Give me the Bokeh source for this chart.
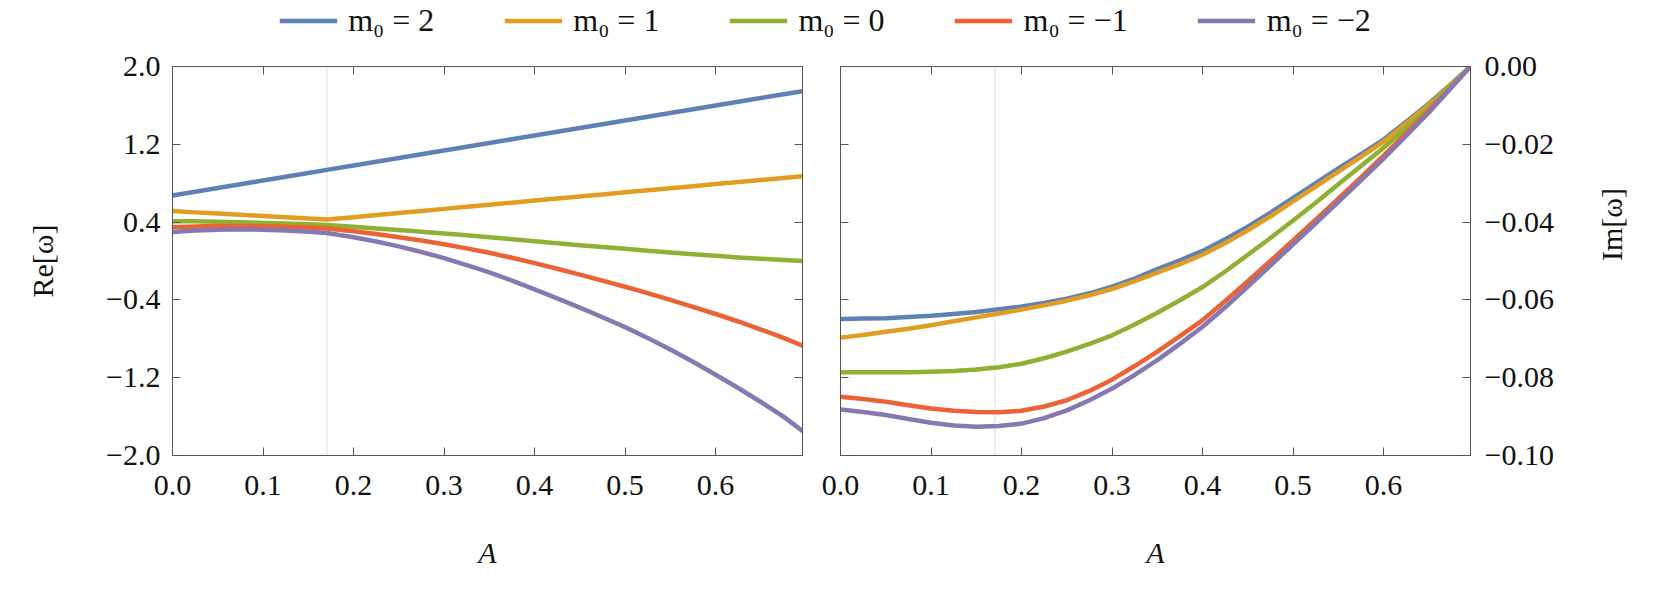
import math
from bokeh.plotting import figure
from bokeh.layouts import column, row
from bokeh.models import (Range1d, LinearAxis, FixedTicker, CustomJSTickFormatter,
                          Span, Legend, LegendItem)
from bokeh.embed import file_html
from bokeh.resources import INLINE

# ---------------- data ----------------
A_RE = [0.0, 0.025, 0.05, 0.075, 0.1, 0.125, 0.15, 0.1706, 0.2, 0.225, 0.25, 0.275, 0.3, 0.325,
        0.35, 0.375, 0.4, 0.425, 0.45, 0.475, 0.5, 0.525, 0.55, 0.575, 0.6, 0.625, 0.65, 0.675, 0.696]
RE_M2 = [0.674, 0.713, 0.751, 0.790, 0.828, 0.867, 0.905, 0.937, 0.982, 1.021, 1.059, 1.098, 1.136, 1.175,
         1.213, 1.252, 1.290, 1.329, 1.367, 1.406, 1.445, 1.483, 1.522, 1.560, 1.599, 1.637, 1.676, 1.714, 1.746]
RE_M1 = [0.513, 0.500, 0.488, 0.475, 0.462, 0.449, 0.436, 0.426, 0.451, 0.472, 0.493, 0.515, 0.536, 0.557,
         0.578, 0.600, 0.621, 0.642, 0.663, 0.684, 0.706, 0.727, 0.748, 0.769, 0.791, 0.812, 0.833, 0.854, 0.872]
RE_M0 = [0.410, 0.408, 0.404, 0.399, 0.392, 0.385, 0.378, 0.370, 0.352, 0.335, 0.318, 0.301, 0.283, 0.264,
         0.245, 0.224, 0.203, 0.183, 0.163, 0.144, 0.125, 0.106, 0.088, 0.070, 0.053, 0.037, 0.023, 0.010, 0.000]
RE_MN1 = [0.348, 0.355, 0.360, 0.360, 0.357, 0.351, 0.344, 0.334, 0.307, 0.278, 0.245, 0.210, 0.172, 0.130,
          0.085, 0.033, -0.022, -0.080, -0.140, -0.202, -0.265, -0.331, -0.400, -0.471, -0.545, -0.622, -0.705, -0.790, -0.871]
RE_MN2 = [0.297, 0.313, 0.322, 0.326, 0.322, 0.314, 0.300, 0.287, 0.245, 0.200, 0.150, 0.093, 0.030, -0.042,
          -0.118, -0.202, -0.292, -0.384, -0.480, -0.578, -0.680, -0.792, -0.910, -1.037, -1.170, -1.306, -1.450, -1.600, -1.748]

A_IM = [0.0, 0.025, 0.05, 0.075, 0.1, 0.125, 0.15, 0.175, 0.2, 0.225, 0.25, 0.275, 0.3, 0.325,
        0.35, 0.375, 0.4, 0.425, 0.45, 0.475, 0.5, 0.525, 0.55, 0.575, 0.6, 0.625, 0.65, 0.675, 0.696]
IM_M2 = [-0.0649, -0.0648, -0.0647, -0.0644, -0.0641, -0.0636, -0.0631, -0.0624, -0.0617, -0.0608, -0.0597, -0.0583,
         -0.0566, -0.0545, -0.0521, -0.0498, -0.0474, -0.0444, -0.0412, -0.0376, -0.0338, -0.0300, -0.0262, -0.0225,
         -0.0188, -0.0142, -0.0095, -0.0044, 0.0]
IM_M1 = [-0.0697, -0.0690, -0.0682, -0.0674, -0.0665, -0.0655, -0.0645, -0.0635, -0.0625, -0.0614, -0.0602, -0.0588,
         -0.0572, -0.0552, -0.0530, -0.0508, -0.0484, -0.0454, -0.0421, -0.0385, -0.0347, -0.0309, -0.0270, -0.0232,
         -0.0193, -0.0146, -0.0098, -0.0046, 0.0]
IM_M0 = [-0.0786, -0.0786, -0.0786, -0.0786, -0.0785, -0.0783, -0.0779, -0.0773, -0.0764, -0.0750, -0.0733, -0.0713,
         -0.0691, -0.0663, -0.0633, -0.0601, -0.0567, -0.0527, -0.0484, -0.0441, -0.0396, -0.0350, -0.0303, -0.0256,
         -0.0209, -0.0158, -0.0105, -0.0048, 0.0]
IM_MN1 = [-0.0849, -0.0855, -0.0862, -0.0871, -0.0879, -0.0885, -0.0888, -0.0889, -0.0885, -0.0874, -0.0858, -0.0834,
          -0.0805, -0.0770, -0.0733, -0.0693, -0.0652, -0.0603, -0.0552, -0.0500, -0.0447, -0.0394, -0.0340, -0.0285,
          -0.0229, -0.0171, -0.0113, -0.0052, 0.0]
IM_MN2 = [-0.0882, -0.0888, -0.0896, -0.0906, -0.0916, -0.0923, -0.0926, -0.0924, -0.0918, -0.0904, -0.0884, -0.0858,
          -0.0828, -0.0793, -0.0755, -0.0713, -0.0669, -0.0619, -0.0566, -0.0512, -0.0457, -0.0403, -0.0348, -0.0293,
          -0.0237, -0.0178, -0.0118, -0.0054, 0.0]

SERIES = ["m₀ = 2", "m₀ = 1", "m₀ = 0", "m₀ = −1", "m₀ = −2"]
COLORS = ["#5E81B5", "#E19C24", "#8FB032", "#EB6235", "#8778B3"]

A_TICKS = [0.0, 0.1, 0.2, 0.3, 0.4, 0.5, 0.6]
RE_TICKS = [-2.0, -1.2, -0.4, 0.4, 1.2, 2.0]
IM_TICKS = [-0.10, -0.08, -0.06, -0.04, -0.02, 0.00]
A_MARK = 0.1706
A_MAX = 0.696
RE_RANGE = (-2.0, 2.0)
IM_RANGE = (-0.10, 0.0)

# ---------------- styling ----------------
FONT = "Liberation Serif"
FS = "30px"
FRAME = "#555555"
FRAME_W, FRAME_H = 630, 389
LW = 4.5


def fmt(decimals):
    return CustomJSTickFormatter(
        code="return tick.toFixed(%d).replace('-', '\u2212');" % decimals)


def add_axis(p, side, ticks, decimals=None, label=None, italic=False,
             standoff=12, label_standoff=40, orientation=None):
    ax = LinearAxis(ticker=FixedTicker(ticks=ticks))
    ax.major_tick_in = 8
    ax.major_tick_out = 0
    ax.minor_tick_line_color = None
    ax.axis_line_color = FRAME
    ax.major_tick_line_color = FRAME
    if decimals is None:
        ax.formatter = CustomJSTickFormatter(code="return '';")
        ax.major_label_text_font_size = "1px"
        ax.major_label_standoff = 0
    else:
        ax.formatter = fmt(decimals)
        ax.major_label_text_font = FONT
        ax.major_label_text_font_size = FS
        ax.major_label_text_color = "#111111"
        ax.major_label_standoff = standoff
    if label is not None:
        ax.axis_label = label
        ax.axis_label_text_font = FONT
        ax.axis_label_text_font_size = FS
        ax.axis_label_text_color = "#111111"
        ax.axis_label_text_font_style = "italic" if italic else "normal"
        ax.axis_label_standoff = label_standoff
        if orientation is not None and "axis_label_orientation" in ax.properties():
            ax.axis_label_orientation = orientation
    p.add_layout(ax, side)
    return ax


def make_fig(yr, xs, ys_list, bl, br):
    p = figure(frame_width=FRAME_W, frame_height=FRAME_H,
               x_range=Range1d(0, A_MAX), y_range=Range1d(*yr),
               x_axis_location=None, y_axis_location=None,
               toolbar_location=None, output_backend="svg",
               min_border_left=bl, min_border_right=br,
               min_border_top=26, min_border_bottom=130)
    p.xgrid.visible = False
    p.ygrid.visible = False
    p.outline_line_color = FRAME
    p.background_fill_color = "white"
    p.border_fill_color = "white"
    p.add_layout(Span(location=A_MARK, dimension="height", line_color="#dcdcdc",
                      line_width=1, level="underlay"))
    for ys, c in zip(ys_list, COLORS):
        p.line(xs, ys, line_color=c, line_width=LW, line_join="round", line_cap="round")
    return p


# left: Re
p1 = make_fig(RE_RANGE, A_RE, [RE_M2, RE_M1, RE_M0, RE_MN1, RE_MN2], 172, 19)
add_axis(p1, "below", A_TICKS, 1, "A", italic=True, standoff=20, label_standoff=38)
add_axis(p1, "left", RE_TICKS, 1, "Re[ω]", standoff=12, label_standoff=44)
add_axis(p1, "above", A_TICKS)
add_axis(p1, "right", RE_TICKS)

# right: Im
p2 = make_fig(IM_RANGE, A_IM, [IM_M2, IM_M1, IM_M0, IM_MN1, IM_MN2], 19, 175)
add_axis(p2, "below", A_TICKS, 1, "A", italic=True, standoff=20, label_standoff=38)
add_axis(p2, "right", IM_TICKS, 2, "Im[ω]", standoff=14, label_standoff=55,
         orientation=math.pi / 2)
add_axis(p2, "above", A_TICKS)
add_axis(p2, "left", IM_TICKS)

# legend strip
leg = figure(width=1650, height=40, x_axis_location=None, y_axis_location=None,
             x_range=Range1d(10, 11), y_range=Range1d(10, 11),
             toolbar_location=None, output_backend="svg", min_border=0)
leg.outline_line_color = None
leg.xgrid.visible = False
leg.ygrid.visible = False
items = []
for name, c in zip(SERIES, COLORS):
    r = leg.line(x=[0, 1], y=[0, 0], line_color=c, line_width=LW)
    items.append(LegendItem(label=name, renderers=[r]))
legend = Legend(items=items, orientation="horizontal", location="center",
                glyph_width=58, glyph_height=20, label_standoff=11, spacing=70,
                padding=0, margin=0, border_line_color=None,
                background_fill_alpha=0,
                label_text_font=FONT, label_text_font_size="32px",
                label_text_color="#111111")
leg.add_layout(legend, "center")

layout = column(leg, row(p1, p2))
open("out.html", "w").write(file_html(layout, INLINE))
